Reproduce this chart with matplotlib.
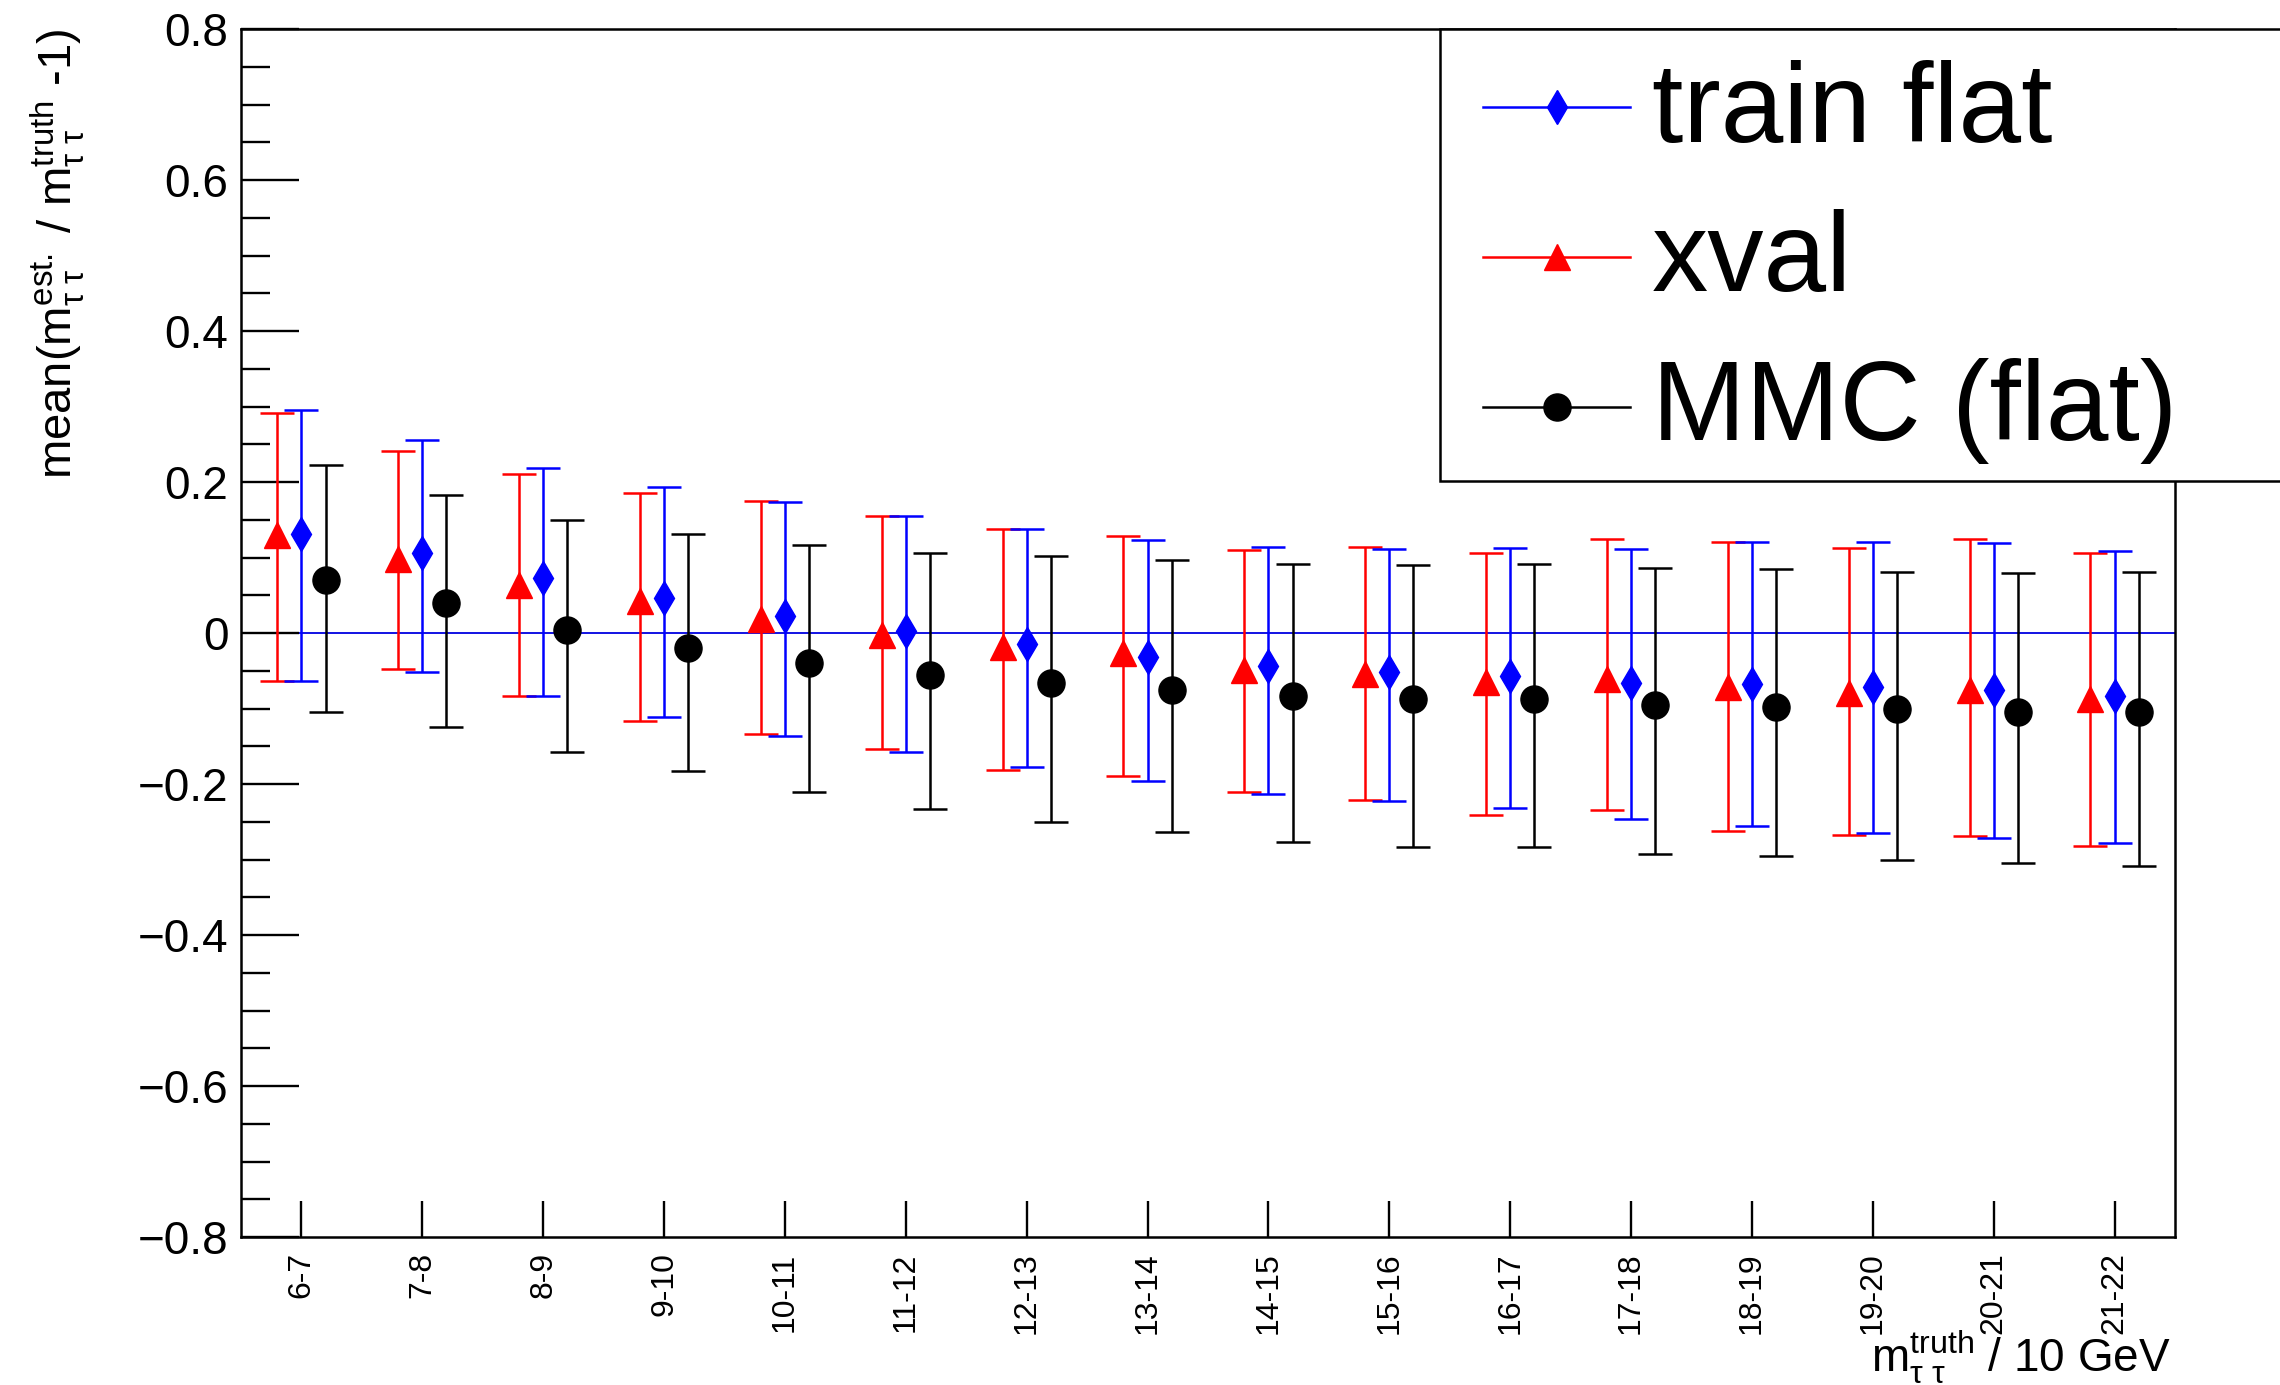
import matplotlib
matplotlib.use('Agg')
import numpy as np
import matplotlib.pyplot as plt
from matplotlib.lines import Line2D
from matplotlib.patches import Rectangle
from matplotlib.ticker import MultipleLocator

plt.rcParams['font.family'] = ['Liberation Sans', 'DejaVu Sans']
plt.rcParams['mathtext.fontset'] = 'custom'
plt.rcParams['mathtext.rm'] = 'Liberation Sans'
plt.rcParams['mathtext.it'] = 'Liberation Sans:italic'
plt.rcParams['mathtext.bf'] = 'Liberation Sans:bold'

# m_tautau truth bins (x 10 GeV)
bins = ['6-7', '7-8', '8-9', '9-10', '10-11', '11-12', '12-13', '13-14',
        '14-15', '15-16', '16-17', '17-18', '18-19', '19-20', '20-21', '21-22']

# train flat (blue)
flat_mean = [0.131, 0.106, 0.073, 0.046, 0.022, 0.002, -0.014, -0.032,
             -0.044, -0.052, -0.057, -0.066, -0.068, -0.071, -0.075, -0.083]
flat_hi = [0.295, 0.255, 0.219, 0.193, 0.173, 0.155, 0.138, 0.123,
           0.114, 0.111, 0.113, 0.111, 0.120, 0.121, 0.119, 0.109]
flat_lo = [-0.064, -0.051, -0.083, -0.111, -0.136, -0.158, -0.178, -0.196,
           -0.213, -0.223, -0.232, -0.246, -0.255, -0.265, -0.272, -0.278]

# xval (red)
xval_mean = [0.130, 0.098, 0.064, 0.042, 0.019, -0.002, -0.019, -0.027,
             -0.049, -0.054, -0.065, -0.061, -0.072, -0.079, -0.076, -0.087]
xval_hi = [0.292, 0.241, 0.210, 0.186, 0.175, 0.155, 0.138, 0.129,
           0.110, 0.114, 0.106, 0.124, 0.120, 0.113, 0.125, 0.106]
xval_lo = [-0.063, -0.048, -0.084, -0.116, -0.134, -0.153, -0.181, -0.189,
           -0.210, -0.221, -0.241, -0.235, -0.262, -0.268, -0.269, -0.282]

# MMC flat (black)
mmc_mean = [0.070, 0.040, 0.004, -0.020, -0.040, -0.056, -0.066, -0.075,
            -0.083, -0.087, -0.088, -0.095, -0.098, -0.101, -0.104, -0.104]
mmc_hi = [0.222, 0.183, 0.150, 0.131, 0.117, 0.106, 0.102, 0.097,
          0.092, 0.090, 0.092, 0.086, 0.085, 0.081, 0.080, 0.081]
mmc_lo = [-0.105, -0.125, -0.157, -0.183, -0.211, -0.233, -0.250, -0.263,
          -0.277, -0.283, -0.283, -0.293, -0.295, -0.301, -0.305, -0.308]

ytick_vals = [-0.8, -0.6, -0.4, -0.2, 0.0, 0.2, 0.4, 0.6, 0.8]
ytick_labels = ['\u22120.8', '\u22120.6', '\u22120.4', '\u22120.2', '0', '0.2', '0.4', '0.6', '0.8']

W, H = 2280, 1385
fig = plt.figure(figsize=(W / 100, H / 100), dpi=100)


def fx(px):
    return px / W


def fy(py):
    return 1 - py / H


ax = fig.add_axes([fx(241), fy(1237), fx(2175) - fx(241), fy(29) - fy(1237)])

x = np.arange(len(bins)) + 0.5
series = [
    ('xval', xval_mean, xval_lo, xval_hi, 'red', '^', 18.5, -0.2),
    ('train flat', flat_mean, flat_lo, flat_hi, 'blue', 'd', 17, 0.0),
    ('MMC (flat)', mmc_mean, mmc_lo, mmc_hi, 'black', 'o', 19.5, 0.2),
]

ax.axhline(0, color='#0000e0', lw=1.3, zorder=1)
for name, m, lo, hi, c, mk, ms, dx in series:
    m = np.array(m)
    yerr = [m - np.array(lo), np.array(hi) - m]
    ax.errorbar(x + dx, m, yerr=yerr, fmt=mk, color=c, mfc=c, mec=c, ms=ms,
                elinewidth=1.8, capsize=12, capthick=1.8, zorder=3)

ax.set_xlim(0, len(bins))
ax.set_ylim(-0.8, 0.8)
ax.set_xticks(x)
ax.set_xticklabels(bins, rotation=90, fontsize=23)
ax.set_yticks(ytick_vals)
ax.set_yticklabels(ytick_labels, fontsize=33)
ax.yaxis.set_minor_locator(MultipleLocator(0.05))
ax.tick_params(axis='y', which='major', direction='in', length=42, width=1.7, pad=9, right=False)
ax.tick_params(axis='y', which='minor', direction='in', length=21, width=1.7, right=False)
ax.tick_params(axis='x', which='major', direction='in', length=26, width=1.7, pad=11, top=False)
ax.tick_params(axis='x', which='minor', bottom=False, top=False)
for s in ax.spines.values():
    s.set_linewidth(1.8)

fig.text(fx(58), fy(29), r'mean(m$^{\rm est.}_{\rm \tau\ \tau}$ / m$^{\rm truth}_{\rm \tau\ \tau}$ -1)',
         rotation=90, ha='center', va='top', fontsize=34)
fig.text(fx(2171), fy(1371), r'm$^{\rm truth}_{\rm \tau\ \tau}$ / 10 GeV',
         ha='right', va='baseline', fontsize=33)

# legend box, runs past the right edge of the canvas
fig.add_artist(Rectangle((fx(1440), fy(481)), fx(2300) - fx(1440), fy(29) - fy(481),
                         transform=fig.transFigure, fc='white', ec='black', lw=1.8, zorder=10))
legend_rows = [('train flat', 'blue', 'd', 17, 107, 142),
               ('xval', 'red', '^', 18.5, 257, 291),
               ('MMC (flat)', 'black', 'o', 19.5, 407, 440)]
for label, c, mk, ms, ly, base in legend_rows:
    fig.add_artist(Line2D([fx(1483), fx(1630)], [fy(ly), fy(ly)], transform=fig.transFigure,
                          color=c, lw=1.8, zorder=11))
    fig.add_artist(Line2D([fx(1557)], [fy(ly)], transform=fig.transFigure, marker=mk,
                          ms=ms, color=c, mfc=c, mec=c, zorder=12))
    fig.text(fx(1652), fy(base), label, ha='left', va='baseline', fontsize=81, zorder=12)

fig.savefig('out.png', dpi=100)
